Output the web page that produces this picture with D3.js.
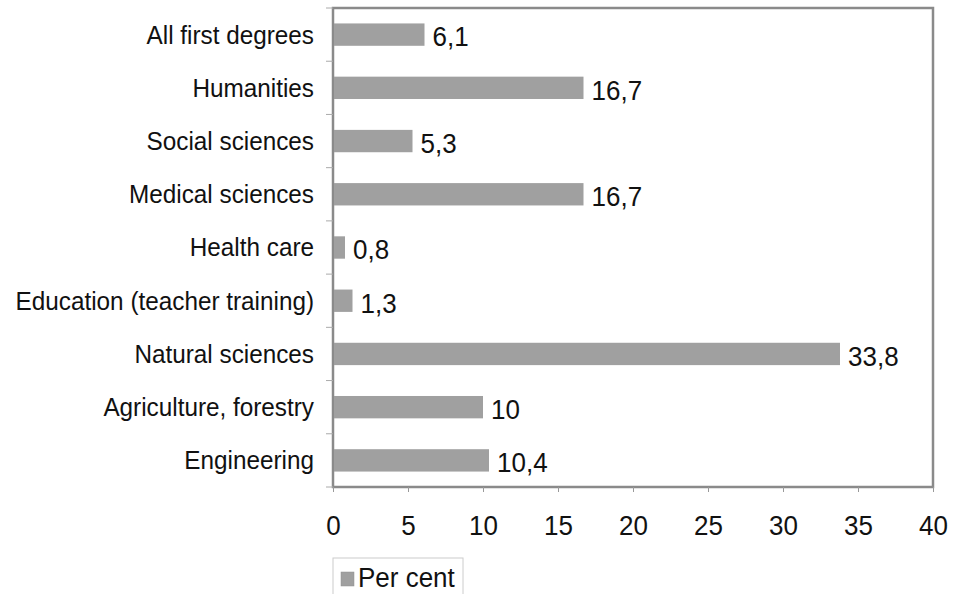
<!DOCTYPE html>
<html>
<head>
<meta charset="utf-8">
<script src="https://cdn.jsdelivr.net/npm/d3@7"></script>
<style>
  body { margin: 0; background: #fff; }
  svg { font-family: "Liberation Sans", Arial, sans-serif; }
</style>
</head>
<body>
<div id="chart"></div>
<script>
// Data
const categories = ["All first degrees", "Humanities", "Social sciences", "Medical sciences",
  "Health care", "Education (teacher training)", "Natural sciences", "Agriculture, forestry", "Engineering"];
const values = [6.1, 16.7, 5.3, 16.7, 0.8, 1.3, 33.8, 10, 10.4];
const valueLabels = ["6,1", "16,7", "5,3", "16,7", "0,8", "1,3", "33,8", "10", "10,4"];
const xTicks = [0, 5, 10, 15, 20, 25, 30, 35, 40];
const seriesName = "Per cent";

const stretch = 1.08; // text in the original looks slightly tall

const svg = d3.select("#chart")
    .append("svg")
    .attr("width", 954)
    .attr("height", 594);

const margin = { top: 8, right: 21, bottom: 107, left: 333 };
const width = 954 - margin.left - margin.right;
const height = 594 - margin.top - margin.bottom;

const chart = svg.append("g")
    .attr("transform", `translate(${margin.left},${margin.top})`);

// Scales
const x = d3.scaleLinear()
    .domain([0, 40])
    .range([0, width]);

const y = d3.scaleBand()
    .domain(categories)
    .range([0, height])
    .paddingInner(0.58)
    .paddingOuter(0.29);

// Plot frame
chart.append("rect")
    .attr("x", 0)
    .attr("y", 0)
    .attr("width", width)
    .attr("height", height)
    .attr("fill", "none")
    .attr("stroke", "#8a8a8a")
    .attr("stroke-width", 2.5);

// Bottom axis
const xAxis = chart.append("g")
    .attr("transform", `translate(0,${height})`)
    .call(d3.axisBottom(x).tickValues(xTicks).tickSize(5).tickPadding(21).tickFormat(d3.format("d")));
xAxis.select(".domain").remove();
xAxis.selectAll(".tick line").attr("stroke", "#999");
xAxis.selectAll(".tick text")
    .attr("fill", "#111")
    .attr("transform", `scale(1,${stretch})`)
    .style("font-size", "26px");

// Left ticks between categories
const gap = y.step() - y.bandwidth();
const bounds = categories.map(c => y(c) - gap / 2).concat([y(categories[categories.length - 1]) + y.bandwidth() + gap / 2]);
chart.selectAll(".ytick")
    .data(bounds)
    .enter()
    .append("line")
    .attr("x1", -7)
    .attr("x2", 0)
    .attr("y1", d => d)
    .attr("y2", d => d)
    .attr("stroke", "#aaa")
    .attr("stroke-width", 1);

// Category labels
chart.selectAll(".cat")
    .data(categories)
    .enter()
    .append("text")
    .attr("transform", d => `translate(-19,${y(d) + y.bandwidth() / 2}) scale(1,${stretch})`)
    .attr("dy", "0.34em")
    .attr("text-anchor", "end")
    .attr("fill", "#111")
    .style("font-size", "24.3px")
    .text(d => d);

// Bars
chart.selectAll(".bar")
    .data(values)
    .enter()
    .append("rect")
    .attr("x", 1)
    .attr("y", (d, i) => y(categories[i]))
    .attr("width", d => x(d) - 1)
    .attr("height", y.bandwidth())
    .attr("fill", "#a0a0a0");

// Value labels
chart.selectAll(".val")
    .data(values)
    .enter()
    .append("text")
    .attr("transform", (d, i) => `translate(${x(d) + 8},${y(categories[i]) + y.bandwidth() / 2}) scale(1,${stretch})`)
    .attr("dy", "0.42em")
    .attr("fill", "#111")
    .style("font-size", "26px")
    .text((d, i) => valueLabels[i]);

// Legend
const legend = svg.append("g")
    .attr("transform", "translate(333,558)");
legend.append("rect")
    .attr("x", 0)
    .attr("y", 0)
    .attr("width", 130)
    .attr("height", 50)
    .attr("fill", "#fff")
    .attr("stroke", "#ccc")
    .attr("stroke-width", 1);
legend.append("rect")
    .attr("x", 8)
    .attr("y", 14)
    .attr("width", 13)
    .attr("height", 14)
    .attr("fill", "#a0a0a0")
    .attr("stroke", "#909090")
    .attr("stroke-width", 0.5);
legend.append("text")
    .attr("transform", `translate(25,29) scale(1,${stretch})`)
    .attr("fill", "#111")
    .style("font-size", "26px")
    .text(seriesName);
</script>
</body>
</html>
